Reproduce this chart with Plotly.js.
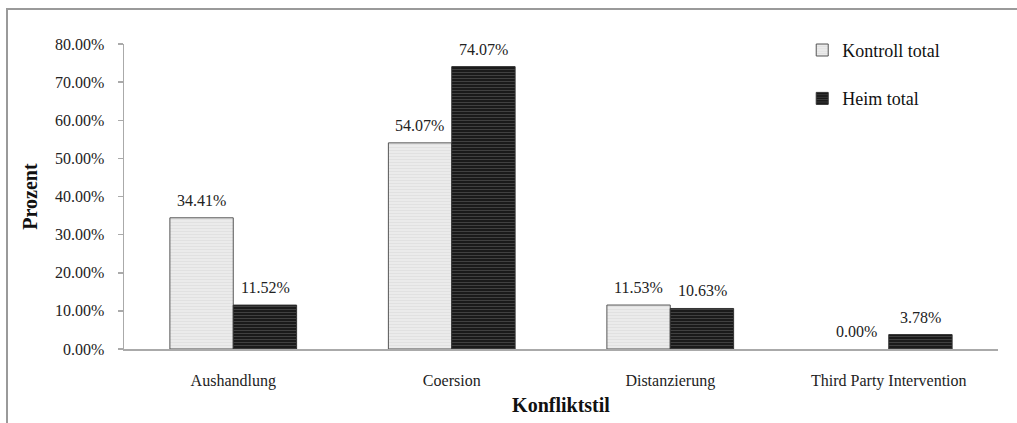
<!DOCTYPE html>
<html>
<head>
<meta charset="utf-8">
<script src="https://cdn.plot.ly/plotly-3.0.1.min.js"></script>
<style>
  html, body { margin: 0; padding: 0; background: #fff; }
  #wrap { position: relative; width: 1017px; height: 423px; overflow: hidden; }
  #chart { position: absolute; left: 0; top: 0; width: 1017px; height: 423px; }
  #frame { position: absolute; left: 6px; top: 8px; width: 1030px; height: 430px;
           border-top: 2px solid #9a9a9a; border-left: 2px solid #9a9a9a; pointer-events: none; }
</style>
</head>
<body>
<div id="wrap">
  <div id="chart"></div>
  <div id="frame"></div>
</div>
<script>
const categories = ["Aushandlung", "Coersion", "Distanzierung", "Third Party Intervention"];
const kontrollTotal = [34.41, 54.07, 11.53, 0.00];
const heimTotal = [11.52, 74.07, 10.63, 3.78];
const yTicks = [0, 10, 20, 30, 40, 50, 60, 70, 80];

const serif = "Liberation Serif";
const fmt = v => v.toFixed(2) + "%";

const traces = [
  {
    type: "bar", name: "Kontroll total", legendgroup: "a",
    x: categories, y: kontrollTotal,
    marker: { color: "#e9e9e9",
              line: { color: "#555", width: kontrollTotal.map(v => v > 0 ? 1 : 0) },
              pattern: { shape: "-", fgcolor: "#e0e0e0", bgcolor: "#ebebeb", size: 3, solidity: 0.3 } }
  },
  {
    type: "bar", name: "Heim total", legendgroup: "b",
    x: categories, y: heimTotal,
    marker: { color: "#1e1e1e", line: { color: "#333", width: 1 },
              pattern: { shape: "-", fgcolor: "#444444", bgcolor: "#1a1a1a", size: 3, solidity: 0.3 } }
  }
];

const labelFont = { family: serif, size: 16, color: "#222" };
const annotations = [];
categories.forEach((c, i) => {
  annotations.push({ x: c, y: kontrollTotal[i], xref: "x", yref: "y", text: fmt(kontrollTotal[i]),
    showarrow: false, yanchor: "bottom", xshift: -32, yshift: 7, font: labelFont });
  annotations.push({ x: c, y: heimTotal[i], xref: "x", yref: "y", text: fmt(heimTotal[i]),
    showarrow: false, yanchor: "bottom", xshift: 32, yshift: 7, font: labelFont });
});

const layout = {
  width: 1017, height: 423,
  margin: { l: 124, r: 19, t: 44, b: 74, pad: 0 },
  paper_bgcolor: "rgba(0,0,0,0)", plot_bgcolor: "rgba(0,0,0,0)",
  font: { family: serif, size: 16, color: "#222" },
  barmode: "group", bargap: 0.42, bargroupgap: 0,
  showlegend: true,
  annotations: annotations,
  legend: { x: 0.776, y: 1.04, xanchor: "left", yanchor: "top",
            font: { family: serif, size: 18, color: "#111" },
            traceorder: "grouped", tracegroupgap: 22, itemwidth: 30,
            bgcolor: "rgba(0,0,0,0)" },
  xaxis: {
    type: "category", showgrid: false, zeroline: false,
    showline: true, linecolor: "#aaaaaa", linewidth: 1.5,
    ticks: "", ticklabelstandoff: 16,
    tickfont: { family: serif, size: 16, color: "#222" },
    title: { text: "<b>Konfliktstil</b>", font: { family: serif, size: 20, color: "#111" }, standoff: 9 }
  },
  yaxis: {
    range: [0, 80], tickvals: yTicks, ticktext: yTicks.map(fmt),
    showgrid: false, zeroline: false,
    showline: true, linecolor: "#aaaaaa", linewidth: 1.5,
    ticks: "outside", ticklen: 5, tickcolor: "#aaaaaa", tickwidth: 1.5,
    ticklabelstandoff: 10,
    tickfont: { family: serif, size: 16, color: "#222" },
    title: { text: "<b>Prozent</b>", font: { family: serif, size: 20, color: "#111" }, standoff: 12 }
  }
};

Plotly.newPlot("chart", traces, layout, { displayModeBar: false, staticPlot: true });
</script>
</body>
</html>
